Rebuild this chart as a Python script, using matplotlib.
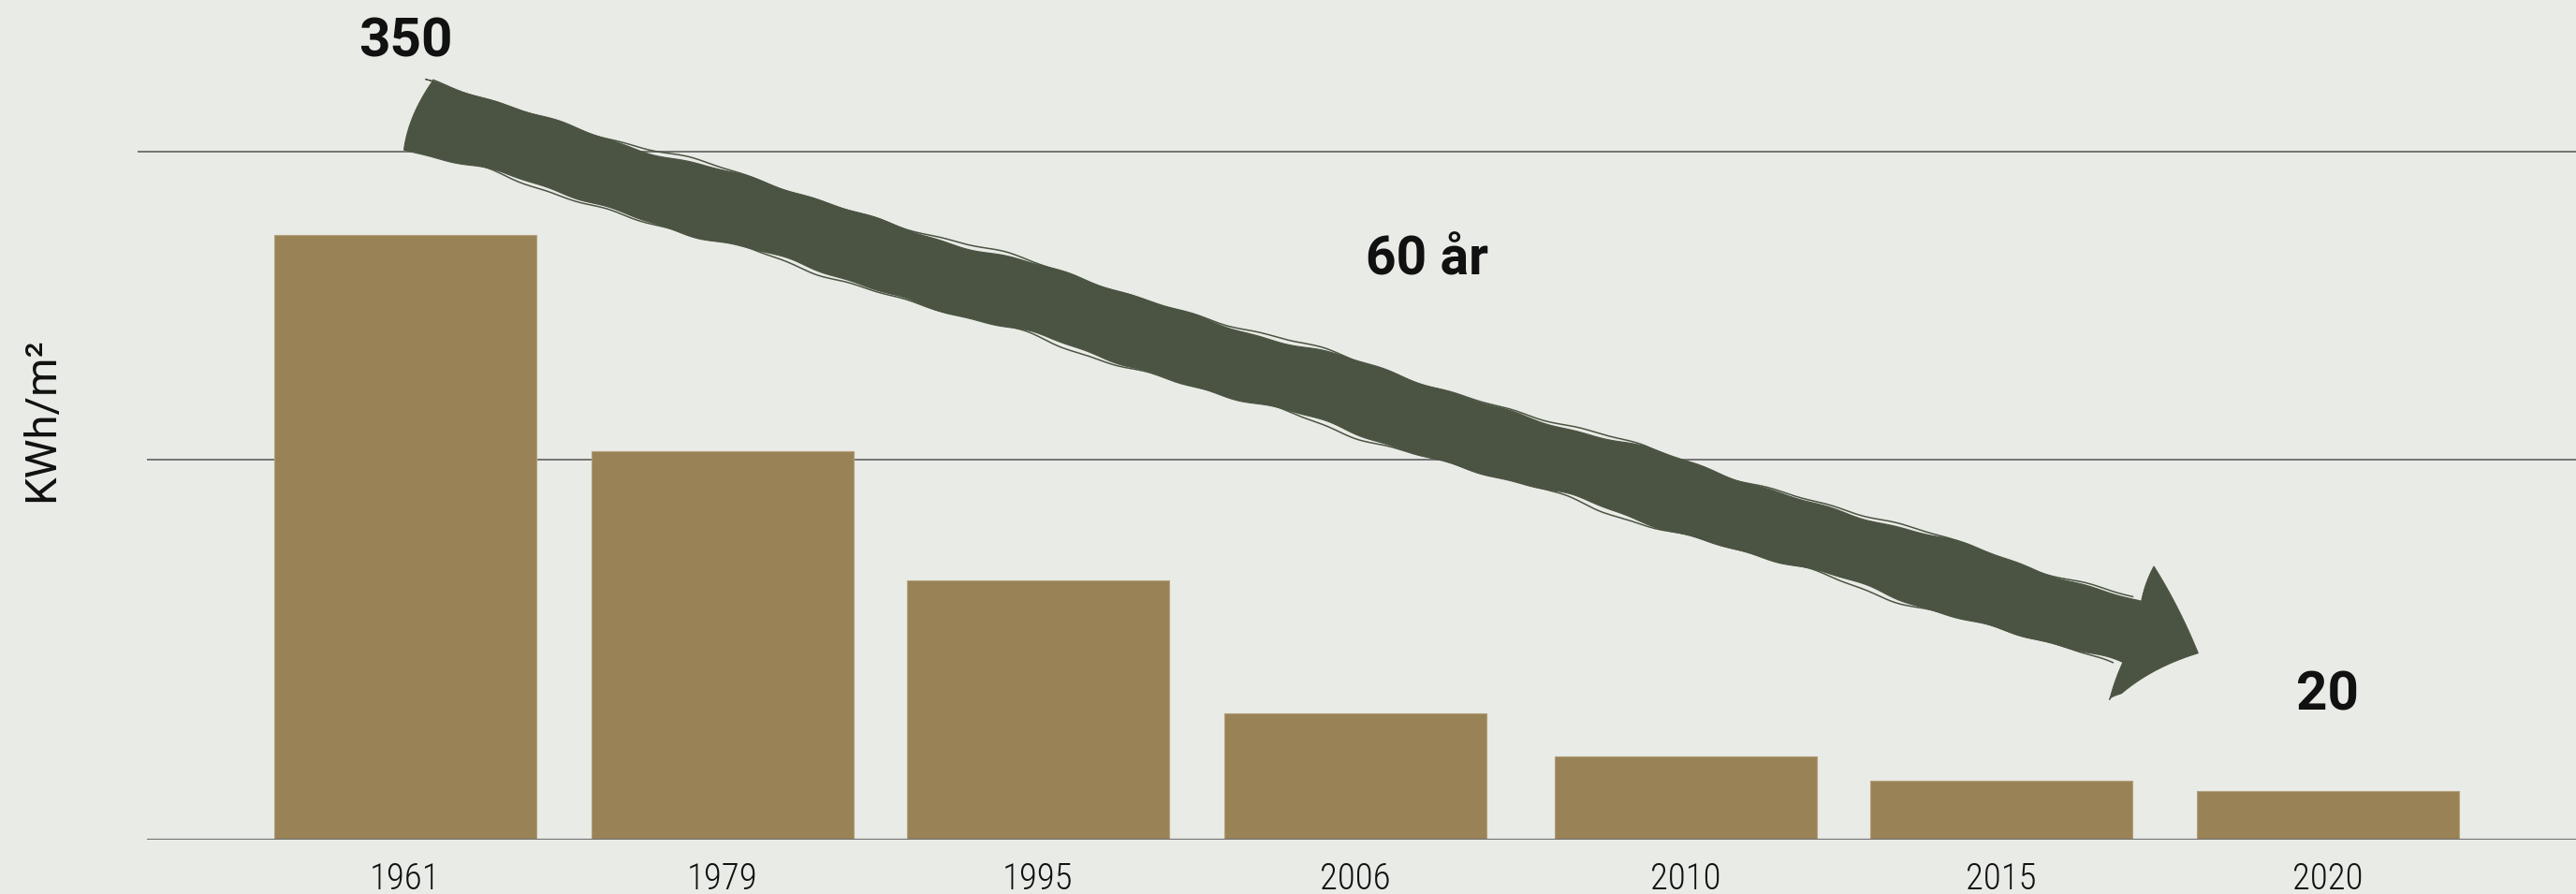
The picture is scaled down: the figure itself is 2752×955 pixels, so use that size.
import numpy as np
import matplotlib
matplotlib.use("Agg")
import matplotlib.pyplot as plt
from matplotlib.patches import Polygon
from matplotlib.transforms import IdentityTransform

# ---- data ----
years = ["1961", "1979", "1995", "2006", "2010", "2015", "2020"]
values = [350, 225, 150, 73, 48, 34, 28]
grid_levels = [220, 398]
ylabel_text = "KWh/m²"
start_label = "350"
end_label = "20"
span_label = "60 år"

# ---- layout ----
slot_pos = [0, 1.0, 1.994, 2.994, 4.035, 5.029, 6.059]   # slightly uneven slots as in original
arrow_start = (0.03, 420)
arrow_end = (5.65, 108)

# ---- style ----
BG = "#E9EBE6"
BAR = "#9A8257"
BAR_EDGE = "#B3A07B"
ARROW = "#4B5442"
GRID = "#747474"
TXT = "#111111"
BOLD_FAM = ["Roboto", "DejaVu Sans"]
REG_FAM = ["Roboto", "DejaVu Sans"]
COND_FAM = ["Roboto Condensed", "Liberation Sans Narrow", "Roboto", "DejaVu Sans"]

W, H = 2752, 955
fig = plt.figure(figsize=(W / 100, H / 100), dpi=100, facecolor=BG)
ax = fig.add_axes([157 / W, 58 / H, 1 - 157 / W, 897 / H])
ax.set_facecolor(BG)

ax.bar(slot_pos, values, width=0.826, color=BAR, edgecolor=BAR_EDGE, linewidth=0.8, zorder=2)
ax.set_xlim(-0.814, 6.841)
ax.set_ylim(0, 486)
for s in ax.spines.values():
    s.set_visible(False)

ax.axhline(0, color=GRID, lw=1.6, zorder=3)
ax.axhline(grid_levels[0], color=GRID, lw=1.4, zorder=1)
ax.axhline(grid_levels[1], xmin=-0.0035, color=GRID, lw=1.4, zorder=1, clip_on=False)

ax.set_yticks([])
ax.set_xticks(slot_pos, years)
ax.tick_params(axis="x", length=0, pad=17, labelsize=28, labelcolor=TXT)
for lab in ax.get_xticklabels():
    lab.set_family(COND_FAM)
    lab.set_fontweight("light")

fig.text(44 / W, 1 - 448 / H, ylabel_text, rotation=90, ha="center", va="center",
         fontsize=34, family=REG_FAM, fontweight="normal", color=TXT)

# value / span annotations
ax.text(slot_pos[0], 453, start_label, ha="center", va="baseline", fontsize=42,
        family=BOLD_FAM, fontweight="bold", color=TXT, zorder=5)
ax.text(slot_pos[-1], 75, end_label, ha="center", va="baseline", fontsize=42,
        family=BOLD_FAM, fontweight="bold", color=TXT, zorder=5)
ax.text(3.22, 327, span_label, ha="center", va="baseline", fontsize=41,
        family=BOLD_FAM, fontweight="bold", color=TXT, zorder=5)

# ---- hand-drawn style arrow (decoration), built in display pixels ----
P0 = ax.transData.transform(arrow_start)
P1 = ax.transData.transform(arrow_end)
d = P1 - P0
L = np.hypot(*d)
u = d / L
nv = np.array([-u[1], u[0]])  # "upper" side normal


def to_disp(a, n):
    a = np.atleast_1d(a)
    n = np.atleast_1d(n)
    return P0 + np.outer(a, u) + np.outer(n, nv)


w = 36.0
head_len = 74.0
head_half = 75.0
shaft_end = L - head_len


def wob_top(a):
    return (2.6 * np.sin(2 * np.pi * a / 330 + 0.4)
            + 1.4 * np.sin(2 * np.pi * a / 173 + 2.0)
            + 0.8 * np.sin(2 * np.pi * a / 71 + 0.9))


def wob_bot(a):
    return (2.6 * np.sin(2 * np.pi * a / 290 + 1.7)
            + 1.5 * np.sin(2 * np.pi * a / 151 + 0.6)
            + 0.8 * np.sin(2 * np.pi * a / 67 + 2.3))


def qbez(p0, c, p1, n=30):
    t = np.linspace(0, 1, n)[:, None]
    p0, c, p1 = map(np.asarray, (p0, c, p1))
    return (1 - t) ** 2 * p0 + 2 * (1 - t) * t * c + t ** 2 * p1


a_s = np.linspace(0, shaft_end, 500)
top = np.column_stack([a_s, w + wob_top(a_s)])
bot = np.column_stack([a_s[::-1], -(w + wob_bot(a_s[::-1]))])

jt = top[-1]
barb_t = np.array([shaft_end + 2, head_half])
tip = np.array([L, 0.0])
barb_b = np.array([shaft_end - 2, -head_half])
jb = bot[0]

head_pts = np.vstack([
    qbez(jt, [shaft_end - 2, (jt[1] + head_half) / 2], barb_t, 10),
    qbez(barb_t, [L - 34, 42], tip, 30),
    qbez(tip, [L - 42, -28], [shaft_end + 8, -head_half + 10], 30),
    qbez([shaft_end + 8, -head_half + 10], [shaft_end - 4, -head_half + 2], barb_b, 8),
    qbez(barb_b, [shaft_end - 3, (jb[1] - head_half) / 2], jb, 10),
])
tail = qbez(bot[-1], [-6, -4], top[0] + np.array([8, 0]), 20)

frame = np.vstack([top, head_pts, bot, tail])
poly_disp = to_disp(frame[:, 0], frame[:, 1])
arrow = Polygon(poly_disp, closed=True, facecolor=ARROW, edgecolor=ARROW, lw=0.8,
                transform=IdentityTransform(), zorder=4)
ax.add_patch(arrow)

# brush strands alongside the edges
a_str = np.linspace(8, shaft_end - 10, 500)
strand_t = w + (2.6 * np.sin(2 * np.pi * a_str / 330 + 1.5)
                + 1.4 * np.sin(2 * np.pi * a_str / 173 + 2.9)
                + 0.8 * np.sin(2 * np.pi * a_str / 71 + 0.9)) + 1.2
strand_b = -(w + 2.6 * np.sin(2 * np.pi * a_str / 290 + 2.9)
             + 1.5 * np.sin(2 * np.pi * a_str / 151 + 1.6)
             + 0.8 * np.sin(2 * np.pi * a_str / 67 + 2.3) + 1.2)
for sn in (strand_t, strand_b):
    pts = to_disp(a_str, sn)
    ax.plot(pts[:, 0], pts[:, 1], color=ARROW, lw=1.1, transform=IdentityTransform(),
            zorder=4, solid_capstyle="round")

fig.savefig("out.png", dpi=100, facecolor=BG)
